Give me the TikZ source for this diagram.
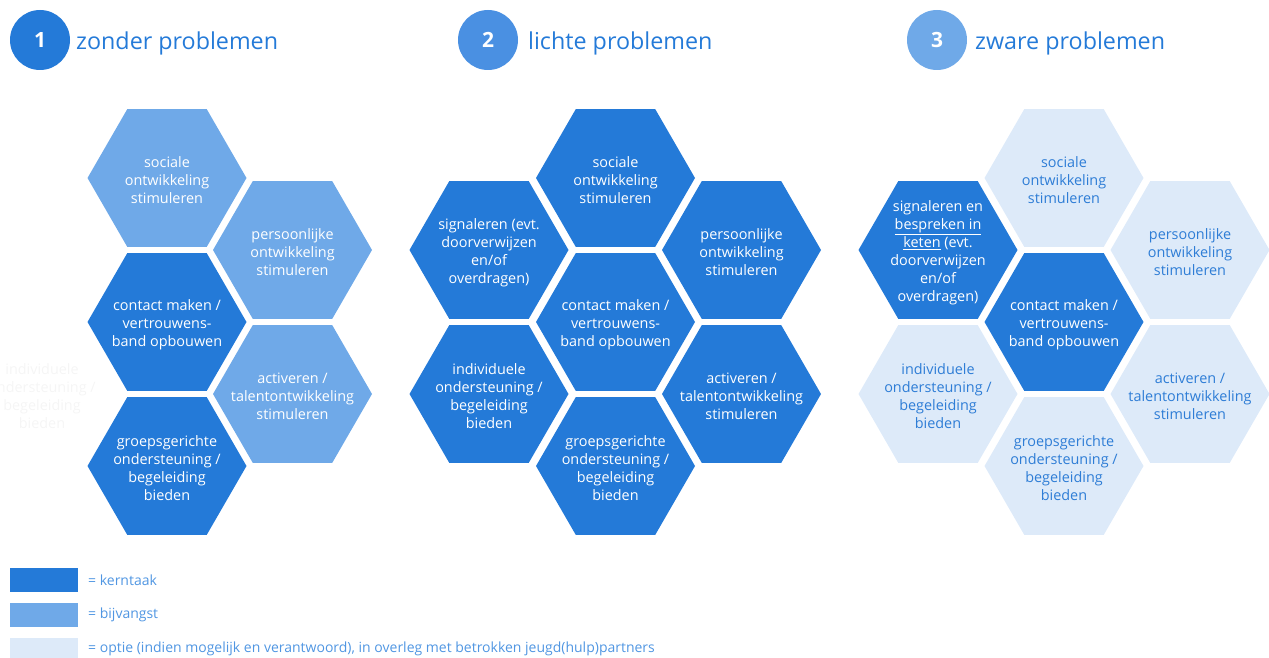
\documentclass[tikz,border=0pt]{standalone}
\usepackage{fontspec}
\setmainfont{Open Sans}
\usetikzlibrary{shapes.geometric}
\definecolor{kern}{RGB}{36,122,216}
\definecolor{bij}{RGB}{111,169,232}
\definecolor{opt}{RGB}{221,234,249}
\definecolor{circtwo}{RGB}{74,144,226}
\definecolor{titleblue}{RGB}{36,122,216}
\definecolor{legblue}{RGB}{80,150,226}
\definecolor{opttext}{RGB}{46,125,214}
\definecolor{ghost}{RGB}{245,245,245}
\tikzset{
  hexa/.style={shape=regular polygon, regular polygon sides=6, minimum size=159pt, inner sep=0pt, draw=none},
  hk/.style={hexa, fill=kern},
  hb/.style={hexa, fill=bij},
  ho/.style={hexa, fill=opt},
  hn/.style={hexa},
  ht/.style={align=center, font=\fontsize{14.4}{18}\selectfont, inner sep=0pt, yshift=-2.5pt},
  htw/.style={ht, text=white},
  htb/.style={ht, text=opttext},
  htg/.style={ht, text=ghost},
  numcirc/.style={circle, minimum size=60pt, inner sep=0pt, text=white, font=\fontsize{21}{24}\selectfont\bfseries},
  ttl/.style={anchor=base west, inner sep=0pt, text=titleblue, font=\fontsize{23.3}{28}\selectfont},
  legbox/.style={fill=#1, draw=none},
  legtxt/.style={anchor=west, inner sep=0pt, text=legblue, font=\fontsize{14}{17}\selectfont},
}
\newcommand\hexcell[6]{%
  \node[#4] (#1) at (#2,#3) {};
  \node[#5] (#1t) at (#1.center) {#6};}
\begin{document}
\begin{tikzpicture}[x=1pt,y=-1pt]
\useasboundingbox (0,0) rectangle (1269,658);
% headers
\node[numcirc, fill=kern] (c1) at (40,40) {1};
\node[ttl] (t1) at (76,50) {zonder problemen};
\node[numcirc, fill=circtwo] (c2) at (488,40) {2};
\node[ttl] (t2) at (528,50) {lichte problemen};
\node[numcirc, fill=bij] (c3) at (937,40) {3};
\node[ttl] (t3) at (975,50) {zware problemen};
% panel 1
\hexcell{aghost}{42}{394}{hn}{htg}{individuele\\ondersteuning /\\begeleiding\\bieden}
\hexcell{asoc}{167}{178}{hb}{htw}{sociale\\ontwikkeling\\stimuleren}
\hexcell{acon}{167}{322}{hk}{htw}{contact maken /\\vertrouwens-\\band opbouwen}
\hexcell{agro}{167}{466}{hk}{htw}{groepsgerichte\\ondersteuning /\\begeleiding\\bieden}
\hexcell{aper}{292.5}{250}{hb}{htw}{persoonlijke\\ontwikkeling\\stimuleren}
\hexcell{aact}{292.5}{394}{hb}{htw}{activeren /\\talentontwikkeling\\stimuleren}
% panel 2
\hexcell{bsig}{489}{250}{hk}{htw}{signaleren (evt.\\doorverwijzen\\en/of\\overdragen)}
\hexcell{bind}{489}{394}{hk}{htw}{individuele\\ondersteuning /\\begeleiding\\bieden}
\hexcell{bsoc}{615.5}{178}{hk}{htw}{sociale\\ontwikkeling\\stimuleren}
\hexcell{bcon}{615.5}{322}{hk}{htw}{contact maken /\\vertrouwens-\\band opbouwen}
\hexcell{bgro}{615.5}{466}{hk}{htw}{groepsgerichte\\ondersteuning /\\begeleiding\\bieden}
\hexcell{bper}{741.5}{250}{hk}{htw}{persoonlijke\\ontwikkeling\\stimuleren}
\hexcell{bact}{741.5}{394}{hk}{htw}{activeren /\\talentontwikkeling\\stimuleren}
% panel 3
\hexcell{csig}{938}{250}{hk}{htw}{signaleren en\\\underline{bespreken in}\\\underline{keten} (evt.\\doorverwijzen\\en/of\\overdragen)}
\hexcell{cind}{938}{394}{ho}{htb}{individuele\\ondersteuning /\\begeleiding\\bieden}
\hexcell{csoc}{1064}{178}{ho}{htb}{sociale\\ontwikkeling\\stimuleren}
\hexcell{ccon}{1064}{322}{hk}{htw}{contact maken /\\vertrouwens-\\band opbouwen}
\hexcell{cgro}{1064}{466}{ho}{htb}{groepsgerichte\\ondersteuning /\\begeleiding\\bieden}
\hexcell{cper}{1190}{250}{ho}{htb}{persoonlijke\\ontwikkeling\\stimuleren}
\hexcell{cact}{1190}{394}{ho}{htb}{activeren /\\talentontwikkeling\\stimuleren}
% legend
\fill[legbox=kern] (10,568) rectangle (78,592);
\node[legtxt] (l1) at (88,580) {= kerntaak};
\fill[legbox=bij] (10,603) rectangle (78,627);
\node[legtxt] (l2) at (88,615) {= bijvangst};
\fill[legbox=opt] (10,638) rectangle (78,658);
\node[legtxt] (l3) at (88,649) {= optie (indien mogelijk en verantwoord), in overleg met betrokken jeugd(hulp)partners};
\end{tikzpicture}
\end{document}
